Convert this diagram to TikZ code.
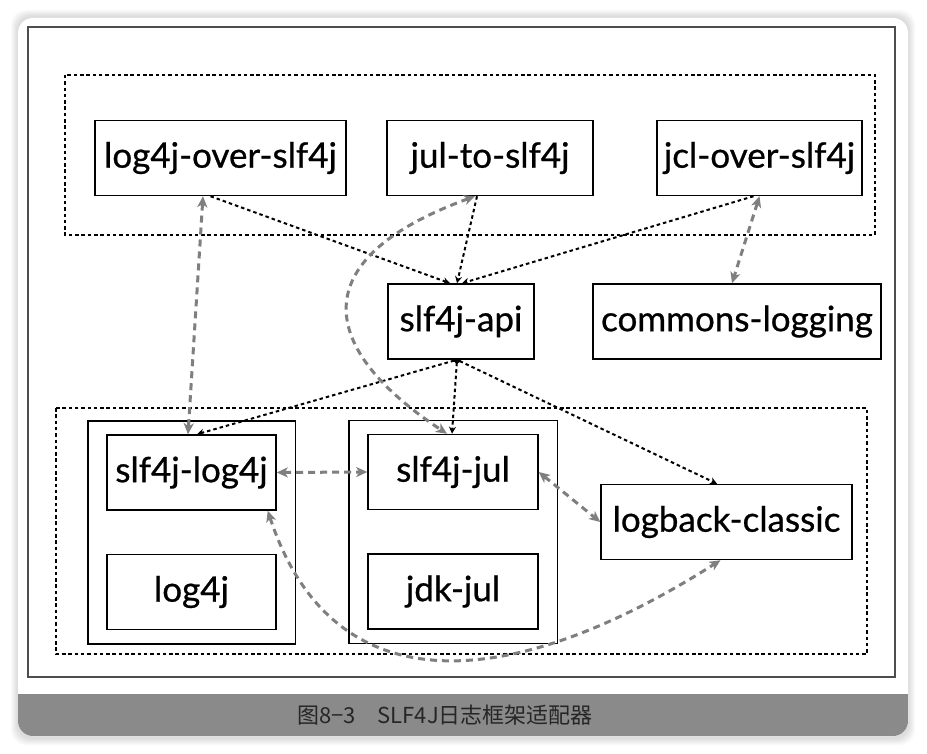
\documentclass[tikz,border=0pt]{standalone}
\usepackage{fontspec}
\setmainfont{Lato}
\newfontfamily\libfont{Lato}[FakeBold=0.7]
\newfontfamily\cjk{Noto Sans CJK SC}
\usetikzlibrary{arrows.meta, positioning, fit}
\definecolor{bridgegray}{HTML}{7F7F7F}
\definecolor{framegray}{HTML}{4D4D4D}
\definecolor{captiongray}{HTML}{8A8A8A}

\begin{document}
\begin{tikzpicture}[
  x=1pt, y=-1pt,
  lib/.style = {draw, line width=1.5pt, minimum height=75pt, inner sep=0pt, align=center,
    font=\libfont\fontsize{35}{40}\selectfont},
  group/.style = {draw, line width=1.5pt, inner xsep=18.5pt, inner ysep=13.5pt},
  zone/.style = {draw, line width=1.6pt, dash pattern=on 3.5pt off 2.8pt},
  call/.style = {line width=2pt, dash pattern=on 3.5pt off 3pt,
    -{Stealth[length=7pt, width=7pt]}},
  callfrom/.style = {call, {Circle[length=4pt]}-{Stealth[length=7pt, width=7pt]}},
  bridge/.style = {bridgegray, line width=3pt, dash pattern=on 7pt off 5pt,
    {Stealth[length=11pt, width=10pt, inset=3pt]}-{Stealth[length=11pt, width=10pt, inset=3pt]}}
]
  \useasboundingbox (0,0) rectangle (927,754);

  % card with soft shadow
  \foreach \s in {1,...,7}
    \fill[black, opacity=0.02, rounded corners=15pt] (18-\s,17-\s) rectangle (908+\s,738+\s);
  \fill[white, rounded corners=15pt] (18,18) rectangle (908,736);
  \begin{scope}
    \clip[rounded corners=15pt] (18,18) rectangle (908,736);
    \fill[captiongray] (18,694) rectangle (908,736);
  \end{scope}
  \draw[framegray, line width=1.6pt] (28,27) rectangle (895,677);

  % bridge zone and binding zone
  \draw[zone] (65,75) rectangle (875,235);
  \draw[zone] (56,408) rectangle (867,654);

  % libraries
  \node[lib, minimum width=251pt] (l4jover) at (220.5,158) {log4j-over-slf4j};
  \node[lib, minimum width=206pt] (jul2slf) at (490,158) {jul-to-slf4j};
  \node[lib, minimum width=205pt] (jclover) at (759.5,158) {jcl-over-slf4j};

  \node[lib, minimum width=146pt] (api) at (461,321.5) {slf4j-api};
  \node[lib, minimum width=288pt] (commons) at (737,321.5) {commons-logging};

  \node[lib, minimum width=169pt] (s4l) at (191.5,472.5) {slf4j-log4j};
  \node[lib, minimum width=169pt, below=43pt of s4l] (log4j) {log4j};
  \node[lib, minimum width=170pt] (s4jul) at (453,472) {slf4j-jul};
  \node[lib, minimum width=170pt, below=43pt of s4jul] (jdkjul) {jdk-jul};
  \node[lib, minimum width=251pt] (logback) at (726.5,522) {logback-classic};

  \node[group, fit=(s4l)(log4j)] (l4jgrp) {};
  \node[group, fit=(s4jul)(jdkjul)] (julgrp) {};

  % calls into slf4j-api
  \draw[call] ([xshift=-10pt]l4jover.south) -- ([xshift=-11pt]api.north);
  \draw[call] ([xshift=-13pt]jul2slf.south) -- ([xshift=-4pt]api.north);
  \draw[call] ([xshift=-6pt]jclover.south) -- ([xshift=1pt]api.north);
  \draw[callfrom] ([xshift=-4pt]api.south) -- ([xshift=5.5pt]s4l.north);
  \draw[callfrom] ([xshift=-4pt]api.south) -- ([xshift=-1pt]s4jul.north);
  \draw[callfrom] ([xshift=-4pt]api.south) -- ([xshift=-9.5pt]logback.north);

  % conflicts
  \draw[bridge] ([xshift=-17.5pt]l4jover.south) -- ([xshift=-3.5pt]s4l.north);
  \draw[bridge] (jclover.south) -- ([xshift=-5pt]commons.north);
  \draw[bridge] ([xshift=-15pt]jul2slf.south) .. controls (300,260) and (320,350) .. ([xshift=-6pt]s4jul.north);
  \draw[bridge] (s4l.east) -- (s4jul.west);
  \draw[bridge] (s4jul.east) -- (logback.west);
  \draw[bridge] ([xshift=-9pt]s4l.south east) .. controls (330,700) and (500,700) .. ([xshift=-6pt]logback.south);

  % caption
  \node[font=\cjk\fontsize{22}{26}\selectfont, text=black!85] (caption) at (445,715)
    {图8−3　SLF4J日志框架适配器};

\end{tikzpicture}
\end{document}
